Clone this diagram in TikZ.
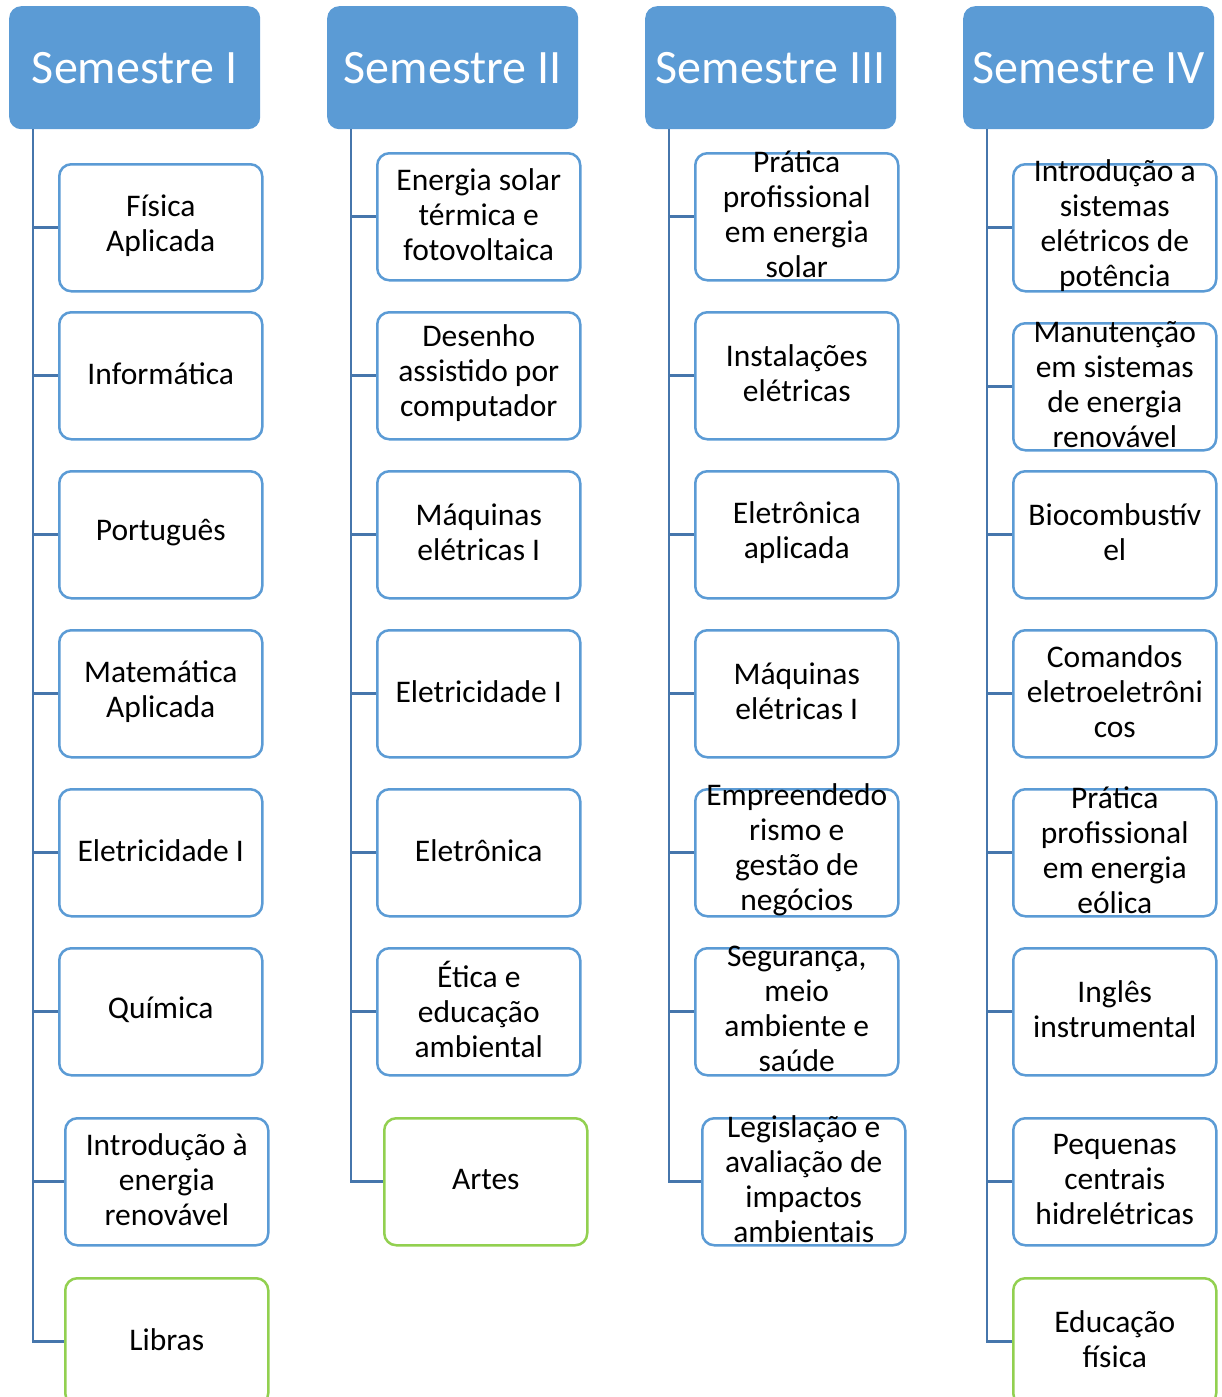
\documentclass[tikz,border=0pt]{standalone}
\usepackage{fontspec}
\setmainfont{Carlito}
\definecolor{hdrblue}{HTML}{5B9BD5}
\definecolor{boxblue}{HTML}{5B9BD5}
\definecolor{boxgreen}{HTML}{92D050}
\definecolor{connblue}{HTML}{4676AC}
\tikzset{
  hdr/.style={fill=hdrblue, rounded corners=12pt, minimum width=251pt, minimum height=123pt, anchor=north west, inner sep=0pt, text=white, font=\fontsize{48}{58}\selectfont},
  sbox/.style={draw=boxblue, line width=2.5pt, fill=white, rounded corners=12pt, minimum width=203pt, minimum height=127pt, anchor=north west, inner sep=0pt},
  gbox/.style={sbox, draw=boxgreen},
  conn/.style={draw=connblue, line width=2.8pt},
  lbl/.style={font=\fontsize{31.5}{35}\selectfont, align=center, inner sep=0pt, text=black, yshift=2.5pt}
}
\begin{document}
\begin{tikzpicture}[x=1pt,y=-1pt]
\useasboundingbox (0,0) rectangle (1221,1397);
% headers
\node[hdr] (h1) at (9,6) {Semestre I};
\node[hdr] (h2) at (327,6) {Semestre II};
\node[hdr] (h3) at (645,6) {Semestre III};
\node[hdr] (h4) at (963,6) {Semestre IV};
\coordinate (s1) at (33,129);
\coordinate (s2) at (351,129);
\coordinate (s3) at (669,129);
\coordinate (s4) at (987,129);
% boxes column 1
\node[sbox] (a1) at (58,163) {};
\node[sbox] (a2) at (58,311) {};
\node[sbox] (a3) at (58,470) {};
\node[sbox] (a4) at (58,629) {};
\node[sbox] (a5) at (58,788) {};
\node[sbox] (a6) at (58,947) {};
\node[sbox] (a7) at (64,1117) {};
\node[gbox] (a8) at (64,1277) {};
% column 2
\node[sbox] (b1) at (376,152) {};
\node[sbox] (b2) at (376,311) {};
\node[sbox] (b3) at (376,470) {};
\node[sbox] (b4) at (376,629) {};
\node[sbox] (b5) at (376,788) {};
\node[sbox] (b6) at (376,947) {};
\node[gbox] (b7) at (383,1117) {};
% column 3
\node[sbox] (c1) at (694,152) {};
\node[sbox] (c2) at (694,311) {};
\node[sbox] (c3) at (694,470) {};
\node[sbox] (c4) at (694,629) {};
\node[sbox] (c5) at (694,788) {};
\node[sbox] (c6) at (694,947) {};
\node[sbox] (c7) at (701,1117) {};
% column 4
\node[sbox] (d1) at (1012,163) {};
\node[sbox] (d2) at (1012,322) {};
\node[sbox] (d3) at (1012,470) {};
\node[sbox] (d4) at (1012,629) {};
\node[sbox] (d5) at (1012,788) {};
\node[sbox] (d6) at (1012,947) {};
\node[sbox] (d7) at (1012,1117) {};
\node[gbox] (d8) at (1012,1277) {};
% connectors
\foreach \b in {a1,a2,a3,a4,a5,a6,a7,a8} { \draw[conn] (s1) |- (\b.west); }
\foreach \b in {b1,b2,b3,b4,b5,b6,b7} { \draw[conn] (s2) |- (\b.west); }
\foreach \b in {c1,c2,c3,c4,c5,c6,c7} { \draw[conn] (s3) |- (\b.west); }
\foreach \b in {d1,d2,d3,d4,d5,d6,d7,d8} { \draw[conn] (s4) |- (\b.west); }
% labels column 1
\node[lbl] (ta1) at (a1.center) {Física\\Aplicada};
\node[lbl] (ta2) at (a2.center) {Informática};
\node[lbl] (ta3) at (a3.center) {Português};
\node[lbl] (ta4) at (a4.center) {Matemática\\Aplicada};
\node[lbl] (ta5) at (a5.center) {Eletricidade I};
\node[lbl] (ta6) at (a6.center) {Química};
\node[lbl] (ta7) at (a7.center) {Introdução à\\energia\\renovável};
\node[lbl] (ta8) at (a8.center) {Libras};
% column 2
\node[lbl] (tb1) at (b1.center) {Energia solar\\térmica e\\fotovoltaica};
\node[lbl] (tb2) at (b2.center) {Desenho\\assistido por\\computador};
\node[lbl] (tb3) at (b3.center) {Máquinas\\elétricas I};
\node[lbl] (tb4) at (b4.center) {Eletricidade I};
\node[lbl] (tb5) at (b5.center) {Eletrônica};
\node[lbl] (tb6) at (b6.center) {Ética e\\educação\\ambiental};
\node[lbl] (tb7) at (b7.center) {Artes};
% column 3
\node[lbl] (tc1) at (c1.center) {Prática\\profissional\\em energia\\solar};
\node[lbl] (tc2) at (c2.center) {Instalações\\elétricas};
\node[lbl] (tc3) at (c3.center) {Eletrônica\\aplicada};
\node[lbl] (tc4) at (c4.center) {Máquinas\\elétricas I};
\node[lbl] (tc5) at (c5.center) {Empreendedo\\rismo e\\gestão de\\negócios};
\node[lbl] (tc6) at (c6.center) {Segurança,\\meio\\ambiente e\\saúde};
\node[lbl] (tc7) at (c7.center) {Legislação e\\avaliação de\\impactos\\ambientais};
% column 4
\node[lbl] (td1) at (d1.center) {Introdução a\\sistemas\\elétricos de\\potência};
\node[lbl] (td2) at (d2.center) {Manutenção\\em sistemas\\de energia\\renovável};
\node[lbl] (td3) at (d3.center) {Biocombustív\\el};
\node[lbl] (td4) at (d4.center) {Comandos\\eletroeletrôni\\cos};
\node[lbl] (td5) at (d5.center) {Prática\\profissional\\em energia\\eólica};
\node[lbl] (td6) at (d6.center) {Inglês\\instrumental};
\node[lbl] (td7) at (d7.center) {Pequenas\\centrais\\hidrelétricas};
\node[lbl] (td8) at (d8.center) {Educação\\física};
\end{tikzpicture}
\end{document}
